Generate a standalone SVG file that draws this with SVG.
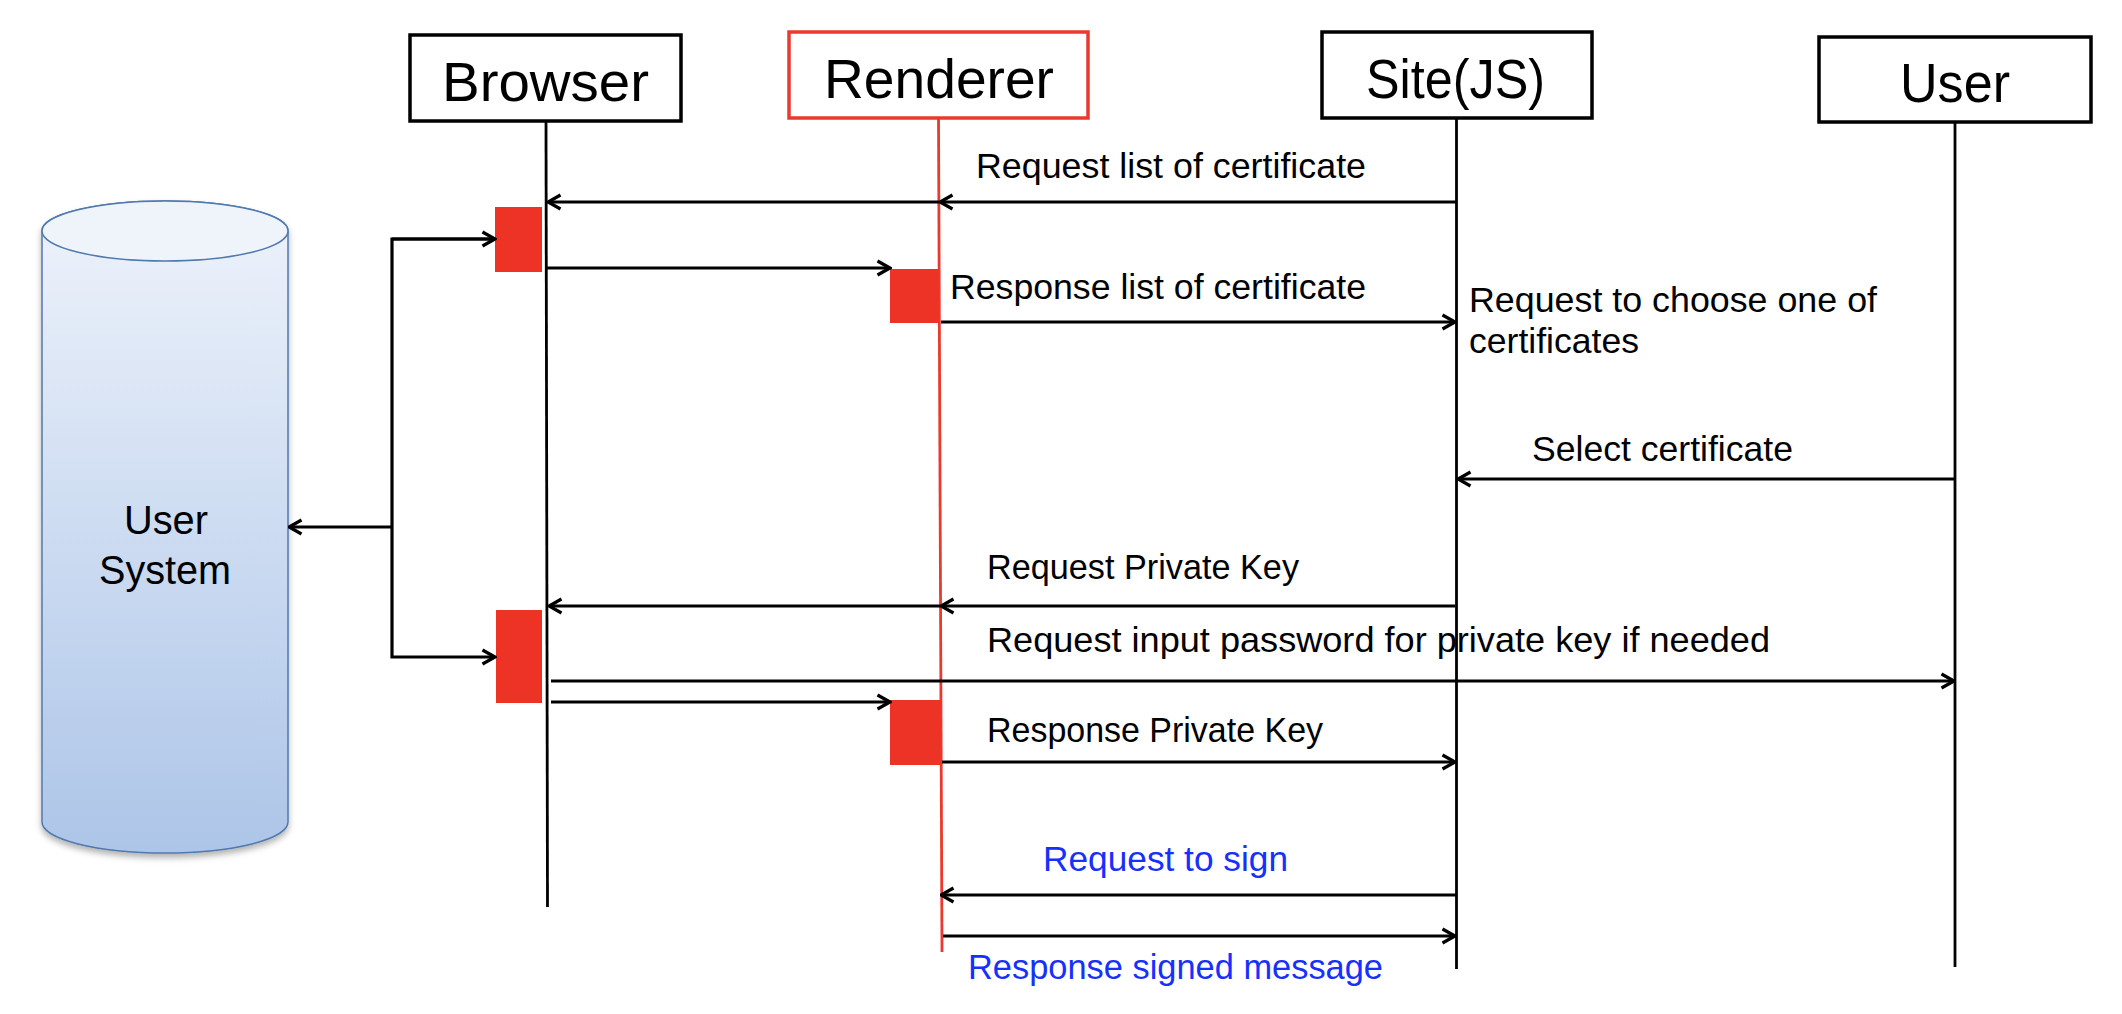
<svg xmlns="http://www.w3.org/2000/svg" width="2122" height="1014" viewBox="0 0 2122 1014">
<style>
text{font-family:"Liberation Sans",Arial,sans-serif;fill:#000}
.hdr{font-size:55px}
.lbl{font-size:35px}
.blue{fill:#1530ff}
.box{fill:#fff;stroke:#000;stroke-width:3.5}
.rbox{fill:#fff;stroke:#ea3a2d;stroke-width:3.5}
.life{stroke:#000;stroke-width:2.8;fill:none}
.rlife{stroke:#ea3a2d;stroke-width:2.8;fill:none}
.act{fill:#ec3326}
.msg{stroke:#000;stroke-width:3.2;fill:none;marker-end:url(#arr)}
.seg{stroke:#000;stroke-width:3.2;fill:none}
</style>
<defs>
<marker id="arr" markerUnits="userSpaceOnUse" viewBox="0 0 16 18" refX="14.5" refY="9" markerWidth="16" markerHeight="18" orient="auto">
<path d="M2,2 L14.5,9 L2,16" fill="none" stroke="#000" stroke-width="3.2"/>
</marker>
<linearGradient id="cylg" x1="0" y1="0" x2="0" y2="1">
<stop offset="0" stop-color="#eef3fb"/>
<stop offset="1" stop-color="#adc5e8"/>
</linearGradient>
<filter id="sh" x="-10%" y="-10%" width="120%" height="120%">
<feDropShadow dx="0" dy="4" stdDeviation="3" flood-color="#000" flood-opacity="0.3"/>
</filter>
</defs>
<rect width="2122" height="1014" fill="#fff"/>

<g id="user-system">
<path d="M42,231 L42,822 A123,31 0 0 0 288,822 L288,231 A123,30 0 0 0 42,231 Z" fill="url(#cylg)" stroke="#5079ad" stroke-width="1.5" filter="url(#sh)"/>
<ellipse cx="165" cy="231" rx="123" ry="30" fill="#eff4fb" stroke="#5079ad" stroke-width="1.5"/>
<text x="166" y="534" style="font-size:40px" text-anchor="middle" textLength="84" lengthAdjust="spacingAndGlyphs">User</text>
<text x="165" y="584" style="font-size:40px" text-anchor="middle" textLength="132" lengthAdjust="spacingAndGlyphs">System</text>
</g>

<g id="browser">
<rect class="box" x="410" y="35" width="271" height="86"/>
<text class="hdr" x="442" y="101" textLength="207" lengthAdjust="spacingAndGlyphs">Browser</text>
<line class="life" x1="546" y1="121" x2="547.5" y2="907"/>
<rect class="act" x="495" y="207" width="47" height="65"/>
<rect class="act" x="496" y="610" width="46" height="93"/>
</g>

<g id="renderer">
<rect class="rbox" x="789" y="32" width="299" height="86"/>
<text class="hdr" x="824" y="98" textLength="230" lengthAdjust="spacingAndGlyphs">Renderer</text>
<line class="rlife" x1="938.5" y1="118" x2="942" y2="952"/>
<rect class="act" x="890" y="269" width="49" height="54"/>
<rect class="act" x="890" y="700" width="51" height="65"/>
</g>

<g id="site">
<rect class="box" x="1322" y="32" width="270" height="86"/>
<text class="hdr" x="1366" y="98" textLength="179" lengthAdjust="spacingAndGlyphs">Site(JS)</text>
<line class="life" x1="1456.5" y1="118" x2="1456.5" y2="969"/>
</g>

<g id="user">
<rect class="box" x="1819" y="37" width="272" height="85"/>
<text class="hdr" x="1900" y="102" textLength="110" lengthAdjust="spacingAndGlyphs">User</text>
<line class="life" x1="1955" y1="122" x2="1955" y2="967"/>
</g>

<g id="connectors">
<line class="msg" x1="1456" y1="202" x2="940" y2="202"/>
<line class="msg" x1="939" y1="202" x2="548" y2="202"/>
<line class="msg" x1="547" y1="268" x2="890" y2="268"/>
<line class="msg" x1="941" y1="322" x2="1455" y2="322"/>
<line class="msg" x1="1954" y1="479" x2="1458" y2="479"/>
<line class="msg" x1="1455" y1="606" x2="941" y2="606"/>
<line class="msg" x1="940" y1="606" x2="549" y2="606"/>
<line class="msg" x1="551" y1="681" x2="1954" y2="681"/>
<line class="msg" x1="551" y1="702" x2="890" y2="702"/>
<line class="msg" x1="942" y1="762" x2="1455" y2="762"/>
<line class="msg" x1="1456" y1="895" x2="941" y2="895"/>
<line class="msg" x1="943" y1="936" x2="1455" y2="936"/>
<polyline class="seg" points="495,239 392,239 392,657 495,657" style="marker-end:url(#arr)"/>
<line class="msg" x1="392" y1="239" x2="495" y2="239"/>
<line class="msg" x1="392" y1="527" x2="289" y2="527"/>
</g>

<g id="labels">
<text class="lbl" x="976" y="178" textLength="390" lengthAdjust="spacingAndGlyphs">Request list of certificate</text>
<text class="lbl" x="950" y="299" textLength="416" lengthAdjust="spacingAndGlyphs">Response list of certificate</text>
<text class="lbl" x="1469" y="312" textLength="408" lengthAdjust="spacingAndGlyphs">Request to choose one of</text>
<text class="lbl" x="1469" y="353" textLength="170" lengthAdjust="spacingAndGlyphs">certificates</text>
<text class="lbl" x="1532" y="461" textLength="261" lengthAdjust="spacingAndGlyphs">Select certificate</text>
<text class="lbl" x="987" y="579" textLength="312" lengthAdjust="spacingAndGlyphs">Request Private Key</text>
<text class="lbl" x="987" y="652" textLength="783" lengthAdjust="spacingAndGlyphs">Request input password for private key if needed</text>
<text class="lbl" x="987" y="742" textLength="336" lengthAdjust="spacingAndGlyphs">Response Private Key</text>
<text class="lbl blue" x="1043" y="871" textLength="245" lengthAdjust="spacingAndGlyphs">Request to sign</text>
<text class="lbl blue" x="968" y="979" textLength="415" lengthAdjust="spacingAndGlyphs">Response signed message</text>
</g>
</svg>
